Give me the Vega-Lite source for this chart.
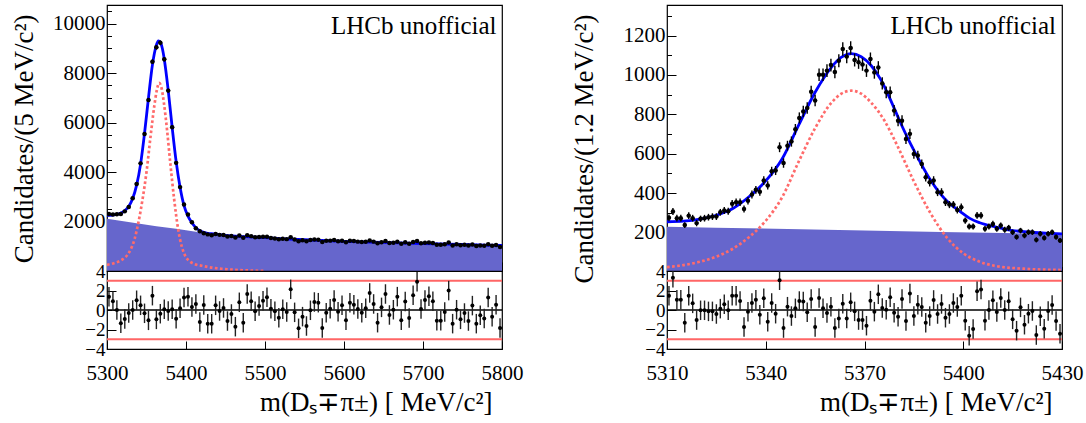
{
"$schema": "https://vega.github.io/schema/vega-lite/v6.json",
"background": "white",
"padding": {"left": 9, "top": -1, "right": 20, "bottom": 5},
"config": {
 "font": "Liberation Serif",
 "view": {"stroke": "black", "strokeWidth": 1.2},
 "axis": {"labelFont": "Liberation Serif", "titleFont": "Liberation Serif", "labelFontSize": 21, "titleFontSize": 27, "titleFontWeight": "normal", "labelColor": "black", "titleColor": "black", "tickColor": "black", "tickWidth": 1, "domain": false, "grid": false, "labelFlush": false, "labelOverlap": false, "zindex": 1}
},
"datasets": {
 "L": [
  {"x":5302.5,"y":2300,"e":48,"p":1.37,"u":1},{"x":5307.5,"y":2285,"e":48,"p":0.89,"u":1},{"x":5312.5,"y":2290,"e":48,"p":0,"u":1},{"x":5317.5,"y":2300,"e":48,"p":-1.37,"u":1},{"x":5322.5,"y":2410,"e":49,"p":-0.92,"u":1},
  {"x":5327.5,"y":2590,"e":51,"p":-0.31,"u":1},{"x":5332.5,"y":2940,"e":54,"p":0,"u":1},{"x":5337.5,"y":3520,"e":59,"p":1.0,"u":1},{"x":5342.5,"y":4350,"e":66,"p":0.48,"u":1},{"x":5347.5,"y":5540,"e":74,"p":-0.34,"u":1},
  {"x":5352.5,"y":6910,"e":83,"p":-1.06,"u":1},{"x":5357.5,"y":8460,"e":92,"p":1.47,"u":1},{"x":5362.5,"y":9040,"e":95,"p":-0.96,"u":1},{"x":5367.5,"y":9220,"e":96,"p":-0.38,"u":1},{"x":5372.5,"y":8560,"e":93,"p":0.07,"u":1},
  {"x":5377.5,"y":7290,"e":85,"p":-0.1,"u":1},{"x":5382.5,"y":5810,"e":76,"p":0.07,"u":1},{"x":5387.5,"y":4370,"e":66,"p":-0.89,"u":1},{"x":5392.5,"y":3390,"e":58,"p":0.17,"u":1},{"x":5397.5,"y":2690,"e":52,"p":1.27,"u":1},
  {"x":5402.5,"y":2280,"e":48,"p":1.37,"u":1},{"x":5407.5,"y":1970,"e":44,"p":0.31,"u":1},{"x":5412.5,"y":1730,"e":42,"p":0.62,"u":1},{"x":5417.5,"y":1610,"e":40,"p":-1.23,"u":1},{"x":5422.5,"y":1530,"e":39,"p":0.51,"u":1},
  {"x":5427.5,"y":1480,"e":38,"p":-1.41,"u":1},{"x":5432.5,"y":1441,"e":38,"p":-1.41,"u":1},{"x":5437.5,"y":1498,"e":39,"p":0.48,"u":1},{"x":5442.5,"y":1460,"e":38,"p":-0.1,"u":1},{"x":5447.5,"y":1456,"e":38,"p":0.21,"u":1},
  {"x":5452.5,"y":1392,"e":37,"p":-1.13,"u":1},{"x":5457.5,"y":1410,"e":38,"p":-0.41,"u":1},{"x":5462.5,"y":1351,"e":37,"p":-1.71,"u":1},{"x":5467.5,"y":1435,"e":38,"p":0.79,"u":1},{"x":5472.5,"y":1346,"e":37,"p":-1.3,"u":1},
  {"x":5477.5,"y":1446,"e":38,"p":1.64,"u":1},{"x":5482.5,"y":1409,"e":38,"p":0.89,"u":1},{"x":5487.5,"y":1362,"e":37,"p":-0.14,"u":1},{"x":5492.5,"y":1373,"e":37,"p":0.41,"u":1},{"x":5497.5,"y":1384,"e":37,"p":0.96,"u":1},
  {"x":5502.5,"y":1388,"e":37,"p":1.3,"u":1},{"x":5507.5,"y":1336,"e":37,"p":0.14,"u":1},{"x":5512.5,"y":1317,"e":36,"p":-0.14,"u":1},{"x":5517.5,"y":1284,"e":36,"p":-0.79,"u":1},{"x":5522.5,"y":1307,"e":36,"p":0.07,"u":1},
  {"x":5527.5,"y":1288,"e":36,"p":-0.21,"u":1},{"x":5532.5,"y":1364,"e":37,"p":2.12,"u":1},{"x":5537.5,"y":1272,"e":36,"p":-0.24,"u":1},{"x":5542.5,"y":1206,"e":35,"p":-1.88,"u":1},{"x":5547.5,"y":1242,"e":35,"p":-0.68,"u":1},
  {"x":5552.5,"y":1201,"e":35,"p":-1.64,"u":1},{"x":5557.5,"y":1252,"e":35,"p":-0.03,"u":1},{"x":5562.5,"y":1275,"e":36,"p":0.82,"u":1},{"x":5567.5,"y":1266,"e":36,"p":0.75,"u":1},{"x":5572.5,"y":1169,"e":34,"p":-1.85,"u":1},
  {"x":5577.5,"y":1219,"e":35,"p":-0.27,"u":1},{"x":5582.5,"y":1227,"e":35,"p":0.14,"u":1},{"x":5587.5,"y":1251,"e":35,"p":1.03,"u":1},{"x":5592.5,"y":1203,"e":35,"p":-0.17,"u":1},{"x":5597.5,"y":1220,"e":35,"p":0.48,"u":1},
  {"x":5602.5,"y":1161,"e":34,"p":-1.06,"u":1},{"x":5607.5,"y":1219,"e":35,"p":0.75,"u":1},{"x":5612.5,"y":1208,"e":35,"p":0.55,"u":1},{"x":5617.5,"y":1187,"e":34,"p":0.1,"u":1},{"x":5622.5,"y":1171,"e":34,"p":-0.27,"u":1},
  {"x":5627.5,"y":1181,"e":34,"p":0.17,"u":1},{"x":5632.5,"y":1231,"e":35,"p":1.75,"u":1},{"x":5637.5,"y":1187,"e":34,"p":0.62,"u":1},{"x":5642.5,"y":1118,"e":33,"p":-1.3,"u":1},{"x":5647.5,"y":1166,"e":34,"p":0.27,"u":1},
  {"x":5652.5,"y":1209,"e":35,"p":1.64,"u":1},{"x":5657.5,"y":1131,"e":34,"p":-0.51,"u":1},{"x":5662.5,"y":1145,"e":34,"p":0.03,"u":1},{"x":5667.5,"y":1186,"e":34,"p":1.37,"u":1},{"x":5672.5,"y":1099,"e":33,"p":-1.06,"u":1},
  {"x":5677.5,"y":1160,"e":34,"p":0.86,"u":1},{"x":5682.5,"y":1099,"e":33,"p":-0.82,"u":1},{"x":5687.5,"y":1173,"e":34,"p":1.51,"u":1},{"x":5692.5,"y":1215,"e":35,"p":2.91,"u":1},{"x":5697.5,"y":1117,"e":33,"p":0.1,"u":1},
  {"x":5702.5,"y":1144,"e":34,"p":1.03,"u":1},{"x":5707.5,"y":1153,"e":34,"p":1.4,"u":1},{"x":5712.5,"y":1131,"e":34,"p":0.89,"u":1},{"x":5717.5,"y":1061,"e":33,"p":-1.1,"u":1},{"x":5722.5,"y":1057,"e":33,"p":-1.1,"u":1},
  {"x":5727.5,"y":1082,"e":33,"p":-0.21,"u":1},{"x":5732.5,"y":1151,"e":34,"p":1.99,"u":1},{"x":5737.5,"y":1034,"e":32,"p":-1.4,"u":1},{"x":5742.5,"y":1077,"e":33,"p":0.03,"u":1},{"x":5747.5,"y":1041,"e":32,"p":-0.96,"u":1},
  {"x":5752.5,"y":1058,"e":33,"p":-0.31,"u":1},{"x":5757.5,"y":1027,"e":32,"p":-1.13,"u":1},{"x":5762.5,"y":1075,"e":33,"p":0.45,"u":1},{"x":5767.5,"y":1011,"e":32,"p":-1.4,"u":1},{"x":5772.5,"y":1034,"e":32,"p":-0.55,"u":1},
  {"x":5777.5,"y":1020,"e":32,"p":-0.86,"u":1},{"x":5782.5,"y":1085,"e":33,"p":1.27,"u":1},{"x":5787.5,"y":1018,"e":32,"p":-0.68,"u":1},{"x":5792.5,"y":1054,"e":32,"p":0.55,"u":1},{"x":5797.5,"y":973,"e":31,"p":-1.85,"u":1}
 ],
 "LF": [
  {"x":5300,"y":2245},{"x":5302.5,"y":2250},{"x":5307.5,"y":2262},{"x":5312.5,"y":2285},{"x":5317.5,"y":2340},{"x":5322.5,"y":2440},{"x":5327.5,"y":2610},{"x":5332.5,"y":2930},{"x":5337.5,"y":3470},{"x":5342.5,"y":4320},{"x":5347.5,"y":5560},{"x":5352.5,"y":7000},{"x":5357.5,"y":8330},{"x":5362.5,"y":9130},{"x":5365,"y":9300},{"x":5367.5,"y":9250},{"x":5370,"y":9000},{"x":5372.5,"y":8560},{"x":5377.5,"y":7300},{"x":5382.5,"y":5800},{"x":5387.5,"y":4430},{"x":5392.5,"y":3380},{"x":5397.5,"y":2640},{"x":5402.5,"y":2220},{"x":5407.5,"y":1950},{"x":5412.5,"y":1750},{"x":5417.5,"y":1630},{"x":5422.5,"y":1560},{"x":5427.5,"y":1520},{"x":5435,"y":1500},{"x":5450,"y":1442},{"x":5475,"y":1390},{"x":5500,"y":1345},{"x":5525,"y":1300},{"x":5550,"y":1262},{"x":5600,"y":1200},{"x":5650,"y":1155},{"x":5700,"y":1112},{"x":5750,"y":1070},{"x":5800,"y":1030}
 ],
 "LB": [
  {"x":5300,"y":2110},{"x":5325,"y":1990},{"x":5350,"y":1870},{"x":5375,"y":1760},{"x":5400,"y":1650},{"x":5425,"y":1535},{"x":5450,"y":1440},{"x":5475,"y":1390},{"x":5500,"y":1345},{"x":5525,"y":1300},{"x":5550,"y":1262},{"x":5600,"y":1200},{"x":5650,"y":1155},{"x":5700,"y":1112},{"x":5750,"y":1070},{"x":5800,"y":1030}
 ],
 "LS": [
  {"x":5300,"y":250},{"x":5310,"y":330},{"x":5320,"y":480},{"x":5328,"y":750},{"x":5335,"y":1300},{"x":5340,"y":2000},{"x":5345,"y":2900},{"x":5350,"y":4000},{"x":5355,"y":5400},{"x":5360,"y":6700},{"x":5363,"y":7300},{"x":5366,"y":7600},{"x":5369,"y":7400},{"x":5372,"y":6800},{"x":5376,"y":5700},{"x":5380,"y":4400},{"x":5385,"y":2900},{"x":5390,"y":1700},{"x":5395,"y":950},{"x":5400,"y":560},{"x":5405,"y":380},{"x":5410,"y":290},{"x":5420,"y":210},{"x":5430,"y":150},{"x":5445,"y":90},{"x":5460,"y":50},{"x":5480,"y":20},{"x":5500,"y":5}
 ],
 "LH": [
  {"x":5300,"x2":5800,"p":3},{"x":5300,"x2":5800,"p":-3}
 ],
 "LZ": [
  {"x":5300,"x2":5800,"p":0}
 ],
 "R": [
  {"x":5310.6,"y":275,"e":17,"p":1.47,"u":1},{"x":5311.8,"y":307,"e":18,"p":3.32,"u":1},{"x":5313.0,"y":273,"e":17,"p":1.06,"u":1},{"x":5314.2,"y":273,"e":17,"p":1.06,"u":1},{"x":5315.4,"y":238,"e":15,"p":-1.3,"u":1},
  {"x":5316.6,"y":286,"e":17,"p":1.47,"u":1},{"x":5317.8,"y":273,"e":17,"p":0.68,"u":1},{"x":5319.0,"y":248,"e":16,"p":-1.03,"u":1},{"x":5320.2,"y":270,"e":16,"p":-0.03,"u":1},{"x":5321.4,"y":273,"e":17,"p":-0.03,"u":1},
  {"x":5322.6,"y":278,"e":17,"p":-0.14,"u":1},{"x":5323.8,"y":281,"e":17,"p":-0.14,"u":1},{"x":5325.0,"y":281,"e":17,"p":-0.41,"u":1},{"x":5326.2,"y":303,"e":17,"p":0.14,"u":1},{"x":5327.4,"y":312,"e":18,"p":0.58,"u":1},
  {"x":5328.6,"y":308,"e":18,"p":-0.03,"u":1},{"x":5329.8,"y":346,"e":19,"p":1.47,"u":1},{"x":5331.0,"y":354,"e":19,"p":1.47,"u":1},{"x":5332.2,"y":354,"e":19,"p":0.92,"u":1},{"x":5333.4,"y":320,"e":18,"p":-1.75,"u":1},
  {"x":5334.6,"y":362,"e":19,"p":-0.17,"u":1},{"x":5335.8,"y":393,"e":20,"p":0.72,"u":1},{"x":5337.0,"y":417,"e":20,"p":1.06,"u":1},{"x":5338.2,"y":407,"e":20,"p":-0.48,"u":1},{"x":5339.4,"y":464,"e":22,"p":1.2,"u":1},
  {"x":5340.6,"y":439,"e":21,"p":-1.2,"u":1},{"x":5341.8,"y":511,"e":23,"p":0.72,"u":1},{"x":5343.0,"y":515,"e":23,"p":-0.38,"u":1},{"x":5344.2,"y":633,"e":25,"p":3.05,"u":1},{"x":5345.4,"y":553,"e":24,"p":-1.85,"u":1},
  {"x":5346.6,"y":641,"e":25,"p":0.34,"u":1},{"x":5347.8,"y":662,"e":26,"p":-0.62,"u":1},{"x":5349.0,"y":724,"e":27,"p":0.17,"u":1},{"x":5350.2,"y":782,"e":28,"p":0.92,"u":1},{"x":5351.4,"y":815,"e":29,"p":0.86,"u":1},
  {"x":5352.6,"y":832,"e":29,"p":-0.24,"u":1},{"x":5353.8,"y":915,"e":30,"p":1.13,"u":1},{"x":5355.0,"y":870,"e":29,"p":-1.75,"u":1},{"x":5356.2,"y":1001,"e":32,"p":1.23,"u":1},{"x":5357.4,"y":1001,"e":32,"p":0.17,"u":1},
  {"x":5358.6,"y":1022,"e":32,"p":-0.31,"u":1},{"x":5359.8,"y":1050,"e":32,"p":0.34,"u":1},{"x":5361.0,"y":1015,"e":32,"p":-1.85,"u":1},{"x":5362.2,"y":1072,"e":33,"p":-0.86,"u":1},{"x":5363.4,"y":1132,"e":34,"p":0.65,"u":1},
  {"x":5364.6,"y":1093,"e":33,"p":-0.86,"u":1},{"x":5365.8,"y":1137,"e":34,"p":0.79,"u":1},{"x":5367.0,"y":1076,"e":33,"p":-0.14,"u":1},{"x":5368.2,"y":1064,"e":33,"p":-1.03,"u":1},{"x":5369.4,"y":1053,"e":32,"p":-1.03,"u":1},
  {"x":5370.6,"y":1022,"e":32,"p":-1.61,"u":1},{"x":5371.8,"y":1081,"e":33,"p":0.96,"u":1},{"x":5373.0,"y":1013,"e":32,"p":-0.17,"u":1},{"x":5374.2,"y":1038,"e":32,"p":1.61,"u":1},{"x":5375.4,"y":957,"e":31,"p":0.21,"u":1},
  {"x":5376.6,"y":912,"e":30,"p":0.03,"u":1},{"x":5377.8,"y":912,"e":30,"p":1.3,"u":1},{"x":5379.0,"y":819,"e":29,"p":-0.27,"u":1},{"x":5380.2,"y":768,"e":28,"p":-0.68,"u":1},{"x":5381.4,"y":768,"e":28,"p":1.13,"u":1},
  {"x":5382.6,"y":675,"e":26,"p":-1.13,"u":1},{"x":5383.8,"y":701,"e":26,"p":1.68,"u":1},{"x":5385.0,"y":599,"e":24,"p":-0.62,"u":1},{"x":5386.2,"y":591,"e":24,"p":0.55,"u":1},{"x":5387.4,"y":548,"e":23,"p":0.31,"u":1},
  {"x":5388.6,"y":481,"e":22,"p":-1.3,"u":1},{"x":5389.8,"y":455,"e":21,"p":-0.62,"u":1},{"x":5391.0,"y":464,"e":22,"p":1.03,"u":1},{"x":5392.2,"y":405,"e":20,"p":-0.41,"u":1},{"x":5393.4,"y":405,"e":20,"p":0.62,"u":1},
  {"x":5394.6,"y":354,"e":19,"p":-0.79,"u":1},{"x":5395.8,"y":342,"e":18,"p":-0.41,"u":1},{"x":5397.0,"y":342,"e":18,"p":0.72,"u":1},{"x":5398.2,"y":315,"e":18,"p":0.31,"u":1},{"x":5399.4,"y":329,"e":18,"p":1.47,"u":1},
  {"x":5400.6,"y":261,"e":16,"p":-1.1,"u":1},{"x":5401.8,"y":231,"e":15,"p":-2.64,"u":1},{"x":5403.0,"y":231,"e":15,"p":-1.95,"u":1},{"x":5404.2,"y":287,"e":17,"p":1.92,"u":1},{"x":5405.4,"y":287,"e":17,"p":2.09,"u":1},
  {"x":5406.6,"y":219,"e":15,"p":-1.1,"u":1},{"x":5407.8,"y":231,"e":15,"p":0,"u":1},{"x":5409.0,"y":244,"e":16,"p":0.99,"u":1},{"x":5410.2,"y":219,"e":15,"p":-0.21,"u":1},{"x":5411.4,"y":236,"e":15,"p":1.23,"u":1},
  {"x":5412.6,"y":214,"e":15,"p":0,"u":1},{"x":5413.8,"y":224,"e":15,"p":0.89,"u":1},{"x":5415.0,"y":202,"e":14,"p":-0.96,"u":1},{"x":5416.2,"y":177,"e":13,"p":-2.12,"u":1},{"x":5417.4,"y":210,"e":14,"p":0.27,"u":1},
  {"x":5418.6,"y":185,"e":14,"p":-1.51,"u":1},{"x":5419.8,"y":202,"e":14,"p":-0.38,"u":1},{"x":5421.0,"y":202,"e":14,"p":-0.1,"u":1},{"x":5422.2,"y":163,"e":13,"p":-2.57,"u":1},{"x":5423.4,"y":194,"e":14,"p":-0.65,"u":1},
  {"x":5424.6,"y":173,"e":13,"p":-1.92,"u":1},{"x":5425.8,"y":194,"e":14,"p":-0.1,"u":1},{"x":5427.0,"y":202,"e":14,"p":0.51,"u":1},{"x":5428.2,"y":177,"e":13,"p":-1.13,"u":1},{"x":5429.4,"y":160,"e":13,"p":-2.43,"u":1}
 ],
 "RF": [
  {"x":5310,"y":255},{"x":5315,"y":258},{"x":5320,"y":268},{"x":5325,"y":288},{"x":5330,"y":322},{"x":5335,"y":383},{"x":5340,"y":462},{"x":5345,"y":575},{"x":5350,"y":745},{"x":5355,"y":912},{"x":5360,"y":1040},{"x":5363,"y":1090},{"x":5366,"y":1108},{"x":5369,"y":1092},{"x":5372,"y":1048},{"x":5375,"y":975},{"x":5378,"y":870},{"x":5381,"y":755},{"x":5384,"y":650},{"x":5387,"y":555},{"x":5390,"y":468},{"x":5393,"y":398},{"x":5396,"y":345},{"x":5399,"y":308},{"x":5402,"y":272},{"x":5405,"y":250},{"x":5410,"y":228},{"x":5415,"y":210},{"x":5420,"y":203},{"x":5425,"y":197},{"x":5430,"y":193}
 ],
 "RB": [
  {"x":5310,"y":230},{"x":5370,"y":211},{"x":5430,"y":193}
 ],
 "RS": [
  {"x":5310,"y":25},{"x":5315,"y":35},{"x":5320,"y":52},{"x":5325,"y":78},{"x":5330,"y":118},{"x":5335,"y":178},{"x":5340,"y":260},{"x":5345,"y":380},{"x":5350,"y":560},{"x":5355,"y":730},{"x":5360,"y":860},{"x":5363,"y":905},{"x":5366,"y":920},{"x":5369,"y":905},{"x":5372,"y":860},{"x":5376,"y":770},{"x":5380,"y":640},{"x":5385,"y":460},{"x":5390,"y":300},{"x":5395,"y":175},{"x":5400,"y":95},{"x":5405,"y":52},{"x":5410,"y":30},{"x":5420,"y":15},{"x":5430,"y":10}
 ],
 "RH": [
  {"x":5310,"x2":5430,"p":3},{"x":5310,"x2":5430,"p":-3}
 ],
 "RZ": [
  {"x":5310,"x2":5430,"p":0}
 ]
},
"bounds": "flush",
"spacing": 560,
"hconcat": [
 {
  "bounds": "flush",
  "spacing": 0,
  "vconcat": [
   {
    "width": 395, "height": 266,
    "encoding": {
     "x": {"field": "x", "type": "quantitative", "scale": {"domain": [5300, 5800]},
       "axis": {"values": [5300,5310,5320,5330,5340,5350,5360,5370,5380,5390,5400,5410,5420,5430,5440,5450,5460,5470,5480,5490,5500,5510,5520,5530,5540,5550,5560,5570,5580,5590,5600,5610,5620,5630,5640,5650,5660,5670,5680,5690,5700,5710,5720,5730,5740,5750,5760,5770,5780,5790,5800],
         "labels": false, "title": null,
         "tickSize": {"condition": {"test": "datum.value % 50 === 0", "value": -9}, "value": -4.5}}},
     "y": {"field": "y", "type": "quantitative", "scale": {"domain": [0, 10750]},
       "axis": {"values": [500,1000,1500,2000,2500,3000,3500,4000,4500,5000,5500,6000,6500,7000,7500,8000,8500,9000,9500,10000,10500],
         "format": "d", "labelExpr": "datum.value % 2000 === 0 ? datum.label : ''", "labelPadding": 11,
         "tickSize": {"condition": {"test": "datum.value % 2000 === 0", "value": -9}, "value": -4.5},
         "title": "Candidates/(5 MeV/c²)", "titleX": -75, "titleY": 9, "titleAngle": -90, "titleAlign": "right", "titleBaseline": "alphabetic"}}
    },
    "layer": [
     {"data": {"name": "LB"}, "mark": {"type": "area", "color": "#6666cc", "opacity": 1, "clip": true, "interpolate": "monotone"}},
     {"data": {"name": "LS"}, "mark": {"type": "line", "color": "#ff6b6b", "strokeWidth": 2.7, "strokeDash": [2.7, 2.4], "clip": true, "interpolate": "monotone"}},
     {"data": {"name": "LF"}, "mark": {"type": "line", "color": "#0000ff", "strokeWidth": 2.8, "clip": true, "interpolate": "monotone"}},
     {"data": {"name": "L"}, "mark": {"type": "errorbar", "color": "black", "thickness": 1.4, "clip": true}, "encoding": {"yError": {"field": "e"}}},
     {"data": {"name": "L"}, "mark": {"type": "tick", "orient": "horizontal", "size": 4, "thickness": 1.4, "color": "black", "clip": true}},
     {"data": {"name": "L"}, "mark": {"type": "point", "shape": "circle", "filled": true, "size": 20, "color": "black", "opacity": 1, "clip": true}},
     {"data": {"values": [{"x": 5793, "y": 9578, "t": "LHCb unofficial"}]}, "mark": {"type": "text", "align": "right", "baseline": "alphabetic", "fontSize": 25, "font": "Liberation Serif", "color": "black"}, "encoding": {"text": {"field": "t"}}}
    ]
   },
   {
    "width": 395, "height": 78,
    "encoding": {
     "x": {"field": "x", "type": "quantitative", "scale": {"domain": [5300, 5800]},
       "axis": {"values": [5300, 5400, 5500, 5600, 5700, 5800], "format": "d", "tickSize": -8, "labelBaseline": "alphabetic", "labelPadding": 38,
         "title": "m(Dₛ∓π±) [ MeV/c²]", "titleX": 385, "titleY": 61, "titleAlign": "right", "titleBaseline": "alphabetic"}},
     "y": {"field": "p", "type": "quantitative", "scale": {"domain": [-4, 4]},
       "axis": {"values": [-4, -2, 0, 2, 4], "format": "d", "tickSize": -9, "labelPadding": 11, "labelFontSize": 19, "title": null}}
    },
    "layer": [
     {"data": {"name": "LH"}, "mark": {"type": "rule", "color": "#ff6666", "strokeWidth": 1.8}, "encoding": {"x2": {"field": "x2"}}},
     {"data": {"name": "LZ"}, "mark": {"type": "rule", "color": "black", "strokeWidth": 1.3}, "encoding": {"x2": {"field": "x2"}}},
     {"data": {"name": "L"}, "mark": {"type": "errorbar", "color": "#222222", "thickness": 1.4, "clip": true}, "encoding": {"yError": {"field": "u"}}},
     {"data": {"name": "L"}, "mark": {"type": "point", "shape": "circle", "filled": true, "size": 16, "color": "black", "opacity": 1, "clip": true}}
    ]
   }
  ]
 },
 {
  "bounds": "flush",
  "spacing": 0,
  "vconcat": [
   {
    "width": 395, "height": 266,
    "encoding": {
     "x": {"field": "x", "type": "quantitative", "scale": {"domain": [5310, 5430]},
       "axis": {"values": [5310,5315,5320,5325,5330,5335,5340,5345,5350,5355,5360,5365,5370,5375,5380,5385,5390,5395,5400,5405,5410,5415,5420,5425,5430],
         "labels": false, "title": null,
         "tickSize": {"condition": {"test": "datum.value % 20 === 0", "value": -9}, "value": -4.5}}},
     "y": {"field": "y", "type": "quantitative", "scale": {"domain": [5, 1355]},
       "axis": {"values": [100,200,300,400,500,600,700,800,900,1000,1100,1200,1300],
         "format": "d", "labelExpr": "datum.value % 200 === 0 ? datum.label : ''", "labelPadding": 11,
         "tickSize": {"condition": {"test": "datum.value % 200 === 0", "value": -9}, "value": -4.5},
         "title": "Candidates/(1.2 MeV/c²)", "titleX": -75, "titleY": 9, "titleAngle": -90, "titleAlign": "right", "titleBaseline": "alphabetic"}}
    },
    "layer": [
     {"data": {"name": "RB"}, "mark": {"type": "area", "color": "#6666cc", "opacity": 1, "clip": true, "interpolate": "monotone"}},
     {"data": {"name": "RS"}, "mark": {"type": "line", "color": "#ff6b6b", "strokeWidth": 2.7, "strokeDash": [2.7, 2.4], "clip": true, "interpolate": "monotone"}},
     {"data": {"name": "RF"}, "mark": {"type": "line", "color": "#0000ff", "strokeWidth": 2.8, "clip": true, "interpolate": "monotone"}},
     {"data": {"name": "R"}, "mark": {"type": "errorbar", "color": "black", "thickness": 1.4, "clip": true}, "encoding": {"yError": {"field": "e"}}},
     {"data": {"name": "R"}, "mark": {"type": "tick", "orient": "horizontal", "size": 4, "thickness": 1.4, "color": "black", "clip": true}},
     {"data": {"name": "R"}, "mark": {"type": "point", "shape": "circle", "filled": true, "size": 20, "color": "black", "opacity": 1, "clip": true}},
     {"data": {"values": [{"x": 5428.2, "y": 1208, "t": "LHCb unofficial"}]}, "mark": {"type": "text", "align": "right", "baseline": "alphabetic", "fontSize": 25, "font": "Liberation Serif", "color": "black"}, "encoding": {"text": {"field": "t"}}}
    ]
   },
   {
    "width": 395, "height": 78,
    "encoding": {
     "x": {"field": "x", "type": "quantitative", "scale": {"domain": [5310, 5430]},
       "axis": {"values": [5310, 5340, 5370, 5400, 5430], "format": "d", "tickSize": -8, "labelBaseline": "alphabetic", "labelPadding": 38,
         "title": "m(Dₛ∓π±) [ MeV/c²]", "titleX": 385, "titleY": 61, "titleAlign": "right", "titleBaseline": "alphabetic"}},
     "y": {"field": "p", "type": "quantitative", "scale": {"domain": [-4, 4]},
       "axis": {"values": [-4, -2, 0, 2, 4], "format": "d", "tickSize": -9, "labelPadding": 11, "labelFontSize": 19, "title": null}}
    },
    "layer": [
     {"data": {"name": "RH"}, "mark": {"type": "rule", "color": "#ff6666", "strokeWidth": 1.8}, "encoding": {"x2": {"field": "x2"}}},
     {"data": {"name": "RZ"}, "mark": {"type": "rule", "color": "black", "strokeWidth": 1.3}, "encoding": {"x2": {"field": "x2"}}},
     {"data": {"name": "R"}, "mark": {"type": "errorbar", "color": "#222222", "thickness": 1.4, "clip": true}, "encoding": {"yError": {"field": "u"}}},
     {"data": {"name": "R"}, "mark": {"type": "point", "shape": "circle", "filled": true, "size": 16, "color": "black", "opacity": 1, "clip": true}}
    ]
   }
  ]
 }
]
}
